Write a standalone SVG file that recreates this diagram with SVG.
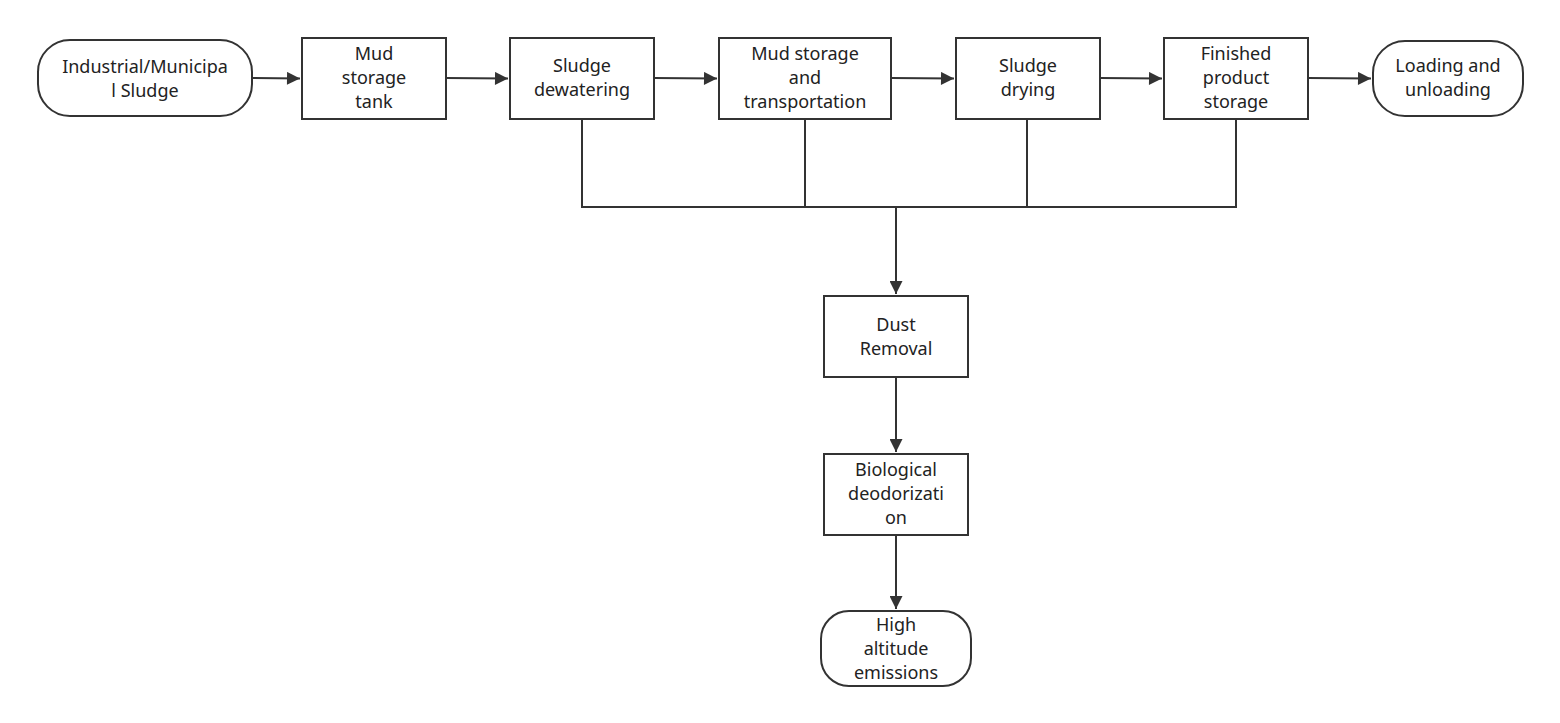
<svg xmlns="http://www.w3.org/2000/svg" width="1560" height="723" viewBox="0 0 1560 723">
<style>
.n{fill:#fff;stroke:#333;stroke-width:2}
.t{font-family:"Noto Sans","Open Sans",sans-serif;font-size:18px;fill:#222;text-anchor:middle}
.c{fill:none;stroke:#333;stroke-width:2}
</style>
<defs><marker id="a" viewBox="0 0 10 10" refX="10" refY="5" markerWidth="10" markerHeight="10" markerUnits="userSpaceOnUse" orient="auto"><path d="M0,0L10,5L0,10z" fill="#333"/></marker>
<marker id="b" viewBox="0 0 10 10" refX="10" refY="5" markerWidth="20" markerHeight="13" markerUnits="userSpaceOnUse" orient="auto"><path d="M0,0L10,5L0,10z" fill="#333"/></marker></defs>
<rect width="1560" height="723" fill="#fff"/>
<g id="connectors">
<path class="c" d="M252,78L300,78.5" marker-end="url(#b)"/>
<path class="c" d="M446,78L508,78.5" marker-end="url(#b)"/>
<path class="c" d="M654,78L717,78.5" marker-end="url(#b)"/>
<path class="c" d="M891,78L954,78.5" marker-end="url(#b)"/>
<path class="c" d="M1100,78L1162,78.5" marker-end="url(#b)"/>
<path class="c" d="M1308,78L1371,78.5" marker-end="url(#b)"/>
<path class="c" d="M582,119V207H1236V119M805,119V207M1027,119V207"/>
<path class="c" d="M896,207V294" stroke-width="3" marker-end="url(#b)"/>
<path class="c" d="M896,377V452" marker-end="url(#b)"/>
<path class="c" d="M896,535V609" marker-end="url(#b)"/>
</g>
<g id="n1"><rect class="n" x="38" y="40" width="214" height="76" rx="32"/><text class="t" x="145" y="73">Industrial/Municipa</text><text class="t" x="145" y="97">l Sludge</text></g>
<g id="n2"><rect class="n" x="302" y="38" width="144" height="81"/><text class="t" x="374" y="60">Mud</text><text class="t" x="374" y="84">storage</text><text class="t" x="374" y="108">tank</text></g>
<g id="n3"><rect class="n" x="510" y="38" width="144" height="81"/><text class="t" x="582" y="72">Sludge</text><text class="t" x="582" y="96">dewatering</text></g>
<g id="n4"><rect class="n" x="719" y="38" width="172" height="81"/><text class="t" x="805" y="60">Mud storage</text><text class="t" x="805" y="84">and</text><text class="t" x="805" y="108">transportation</text></g>
<g id="n5"><rect class="n" x="956" y="38" width="144" height="81"/><text class="t" x="1028" y="72">Sludge</text><text class="t" x="1028" y="96">drying</text></g>
<g id="n6"><rect class="n" x="1164" y="38" width="144" height="81"/><text class="t" x="1236" y="60">Finished</text><text class="t" x="1236" y="84">product</text><text class="t" x="1236" y="108">storage</text></g>
<g id="n7"><rect class="n" x="1373" y="41" width="150" height="75" rx="32"/><text class="t" x="1448" y="72">Loading and</text><text class="t" x="1448" y="96">unloading</text></g>
<g id="n8"><rect class="n" x="824" y="296" width="144" height="81"/><text class="t" x="896" y="331">Dust</text><text class="t" x="896" y="355">Removal</text></g>
<g id="n9"><rect class="n" x="824" y="454" width="144" height="81"/><text class="t" x="896" y="476">Biological</text><text class="t" x="896" y="500">deodorizati</text><text class="t" x="896" y="524">on</text></g>
<g id="n10"><rect class="n" x="821" y="611" width="150" height="75" rx="28"/><text class="t" x="896" y="631">High</text><text class="t" x="896" y="655">altitude</text><text class="t" x="896" y="679">emissions</text></g>
</svg>
